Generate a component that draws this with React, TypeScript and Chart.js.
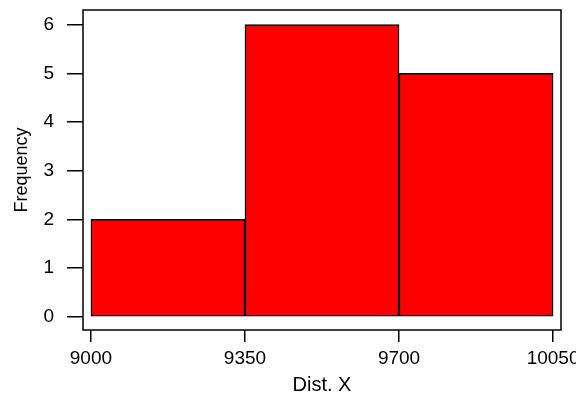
import React, { useEffect, useRef } from "react";
import { Chart, registerables } from "chart.js";

Chart.register(...registerables);

const binCenters = [9175, 9525, 9875];
const frequencies = [2, 6, 5];
const xTickValues = [9000, 9350, 9700, 10050];
const xTitle = "Dist. X";
const yTitle = "Frequency";

const boxPlugin = {
  id: "boxPlugin",
  afterDraw(chart: any) {
    const { ctx, chartArea } = chart;
    ctx.save();
    ctx.strokeStyle = "#000";
    ctx.lineWidth = 1.5;
    ctx.strokeRect(chartArea.left, chartArea.top, chartArea.right - chartArea.left, chartArea.bottom - chartArea.top);
    ctx.restore();
  },
};

const zeroPad = (s: any) => {
  s.paddingTop = 0;
  s.paddingBottom = 0;
  s.paddingLeft = 0;
  s.paddingRight = 0;
};

export default function App() {
  const ref = useRef<HTMLCanvasElement>(null);
  useEffect(() => {
    if (!ref.current) return;
    const font = "'Liberation Sans', Arial, Helvetica, sans-serif";
    const chart = new Chart(ref.current, {
      type: "bar",
      data: {
        datasets: [
          {
            data: binCenters.map((x, i) => ({ x, y: frequencies[i] })),
            backgroundColor: "#FF0000",
            borderColor: "#000",
            borderWidth: 1.5,
            borderSkipped: false,
            barPercentage: 1,
            categoryPercentage: 1,
          } as any,
        ],
      },
      options: {
        responsive: false,
        animation: false,
        layout: { padding: { top: 10, right: 15, left: 0, bottom: 0 } },
        plugins: { legend: { display: false }, tooltip: { enabled: false } },
        scales: {
          x: {
            type: "linear",
            min: 8982,
            max: 10068,
            offset: false,
            grid: { offset: false, drawOnChartArea: false, drawTicks: true, tickLength: 12, color: "#000", lineWidth: 1.5 },
            border: { display: false },
            afterBuildTicks: (s: any) => {
              s.ticks = xTickValues.map((v) => ({ value: v }));
            },
            afterFit: (s: any) => {
              s.height = 69;
              zeroPad(s);
            },
            ticks: { color: "#000", font: { family: font, size: 19 }, padding: 5.5, maxRotation: 0, autoSkip: false, callback: (v: any) => String(v) },
            title: { display: true, text: xTitle, color: "#000", font: { family: font, size: 20 }, padding: { top: 0, bottom: 2 } },
          },
          y: {
            type: "linear",
            min: -0.27,
            max: 6.3,
            grid: { drawOnChartArea: false, drawTicks: true, tickLength: 16, color: "#000", lineWidth: 1.5 },
            border: { display: false },
            afterFit: (s: any) => {
              s.width = 83;
              zeroPad(s);
            },
            ticks: { stepSize: 1, includeBounds: false, color: "#000", font: { family: font, size: 19 }, padding: 13 },
            title: { display: true, text: yTitle, color: "#000", font: { family: font, size: 18 }, padding: { top: 11, bottom: 0 } },
          },
        },
      },
      plugins: [boxPlugin],
    });
    return () => chart.destroy();
  }, []);
  return (
    <div style={{ position: "fixed", left: 0, top: 0, width: 576, height: 399, background: "#fff" }}>
      <canvas ref={ref} width={576} height={399} />
    </div>
  );
}
